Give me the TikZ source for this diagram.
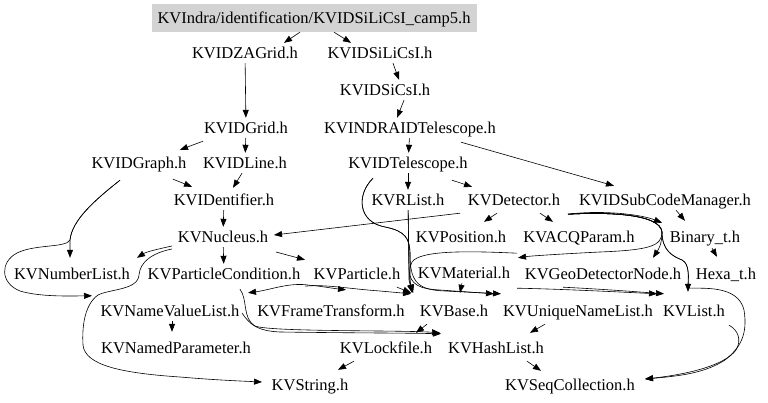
\documentclass[tikz,border=0pt]{standalone}
\usepackage{fontspec}
\setmainfont{Liberation Serif}
\usetikzlibrary{arrows.meta}
\definecolor{rootgray}{RGB}{211,211,211}
\tikzset{
  filebox/.style={inner xsep=2pt, inner ysep=0pt, minimum height=20pt,
    text height=11pt, text depth=0pt, font=\fontsize{16.5}{18}\selectfont},
  rootbox/.style={filebox, fill=rootgray, minimum width=325pt, minimum height=28pt},
  incl/.style={-{Triangle[length=8pt,width=6pt]}, line width=0.6pt}
}

\begin{document}
\begin{tikzpicture}[x=1pt,y=-1pt]
\useasboundingbox (0,0) rectangle (768,403);

\node[rootbox] (root) at (314,18) {KVIndra/identification/KVIDSiLiCsI\_camp5.h};
\node[filebox] (zagrid) at (245,53) {KVIDZAGrid.h};
\node[filebox] (silicsi) at (380,53) {KVIDSiLiCsI.h};
\node[filebox] (sicsi) at (385,90) {KVIDSiCsI.h};
\node[filebox] (idgrid) at (246,128) {KVIDGrid.h};
\node[filebox] (indratel) at (410,128) {KVINDRAIDTelescope.h};
\node[filebox] (idgraph) at (139,163) {KVIDGraph.h};
\node[filebox] (idline) at (245,163) {KVIDLine.h};
\node[filebox] (idtel) at (408,163) {KVIDTelescope.h};
\node[filebox] (ident) at (224,200) {KVIDentifier.h};
\node[filebox] (rlist) at (408,200) {KVRList.h};
\node[filebox] (detector) at (514,200) {KVDetector.h};
\node[filebox] (subcode) at (665,200) {KVIDSubCodeManager.h};
\node[filebox] (nucleus) at (223,237) {KVNucleus.h};
\node[filebox] (position) at (461,237) {KVPosition.h};
\node[filebox] (acq) at (579,237) {KVACQParam.h};
\node[filebox] (binary) at (705,237) {Binary\_t.h};
\node[filebox] (numlist) at (72,274) {KVNumberList.h};
\node[filebox] (pcond) at (224,274) {KVParticleCondition.h};
\node[filebox] (particle) at (357,274) {KVParticle.h};
\node[filebox] (material) at (464,273) {KVMaterial.h};
\node[filebox] (geonode) at (603,274) {KVGeoDetectorNode.h};
\node[filebox] (hexa) at (726,274) {Hexa\_t.h};
\node[filebox] (nvlist) at (170,311) {KVNameValueList.h};
\node[filebox] (frame) at (331,311) {KVFrameTransform.h};
\node[filebox] (base) at (454,311) {KVBase.h};
\node[filebox] (unique) at (578,311) {KVUniqueNameList.h};
\node[filebox] (list) at (694,311) {KVList.h};
\node[filebox] (namedpar) at (176,348) {KVNamedParameter.h};
\node[filebox] (lockfile) at (386,348) {KVLockfile.h};
\node[filebox] (hashlist) at (496,348) {KVHashList.h};
\node[filebox] (string) at (310,385) {KVString.h};
\node[filebox] (seqcoll) at (570,385) {KVSeqCollection.h};

\draw[incl] ([xshift=-14pt]root.south) -- ([xshift=39pt]zagrid.north);
\draw[incl] ([xshift=20pt]root.south) -- ([xshift=-29pt]silicsi.north);
\draw[incl] (zagrid) -- (idgrid);
\draw[incl] ([xshift=13pt]silicsi.south) -- ([xshift=14pt]sicsi.north);
\draw[incl] ([xshift=19pt]sicsi.south) -- ([xshift=-13pt]indratel.north);
\draw[incl] ([xshift=-43pt,yshift=-3pt]idgrid.south) -- ([xshift=41pt,yshift=3pt]idgraph.north);
\draw[incl] (idgrid) -- (idline);
\draw[incl] (indratel) -- (idtel);
\draw[incl] ([xshift=51pt,yshift=-4pt]indratel.south) -- ([xshift=-51pt,yshift=4pt]subcode.north);
\draw[incl] ([xshift=34pt,yshift=-6pt]idgraph.south) -- ([xshift=-32pt,yshift=3pt]ident.north);
\draw[incl] ([xshift=-3pt]idline.south) -- ([xshift=9pt,yshift=2pt]ident.north);
\draw[incl] ([xshift=-19pt,yshift=-7pt]idgraph.south) .. controls (95,200) and (72,220) .. (70,240)
  -- ([xshift=-2pt,yshift=6pt]numlist.north);
\draw[incl] ([xshift=-19pt,yshift=-7pt]idgraph.south) .. controls (95,200) and (72,220) .. (70,240)
  .. controls (66,248) and (35,244) .. (17,253) .. controls (0,262) and (0,283) .. (20,291)
  .. controls (40,297) and (70,296) .. ([xshift=-78pt,yshift=5pt]nvlist.north);
\draw[incl] (ident) -- (nucleus);
\draw[incl] (idtel) -- (rlist);
\draw[incl] ([xshift=44pt,yshift=-7pt]idtel.south) -- ([xshift=-42pt,yshift=3pt]detector.north);
\draw[incl] ([xshift=-35pt,yshift=-5pt]idtel.south) .. controls (356,195) and (358,222) .. (385,227)
  .. controls (405,231) and (410,238) .. (410,255) -- (410,282) -- ([xshift=-41pt,yshift=8pt]base.north);
\draw[incl] ([xshift=-35pt,yshift=-5pt]idtel.south) .. controls (356,195) and (358,222) .. (385,227)
  .. controls (405,231) and (410,238) .. (410,255) .. controls (410,284) and (420,290) .. (445,291)
  -- ([xshift=-77pt,yshift=7pt]unique.north);
\draw[incl] (rlist) -- (409,280) -- ([xshift=-42pt,yshift=8pt]base.north);
\draw[incl] (rlist) -- (409,270) .. controls (410,285) and (420,289) .. (440,290)
  -- ([xshift=-84pt,yshift=7pt]unique.north);
\draw[incl] ([xshift=-62pt,yshift=-6pt]acq.south) .. controls (470,251) and (420,250) .. (412,262)
  .. controls (408,270) and (410,282) .. ([xshift=-41pt,yshift=8pt]base.north);
\draw[incl] ([xshift=40pt,yshift=-3pt]particle.south) -- ([xshift=-43pt,yshift=8pt]base.north);
\draw[incl] ([xshift=81pt,yshift=-2pt]pcond.south) .. controls (325,284) and (350,289) .. (380,291)
  -- ([xshift=-43pt,yshift=7pt]base.north);
\draw[incl] ([xshift=-48pt,yshift=-1pt]particle.south) .. controls (290,282) and (270,290)
  .. ([xshift=78pt,yshift=8pt]nvlist.north);
\draw[incl] ([xshift=-48pt,yshift=-1pt]particle.south) .. controls (320,286) and (330,288)
  .. ([xshift=15pt,yshift=11pt]frame.north);
\draw[incl] (material) -- ([xshift=6pt,yshift=8pt]base.north);
\draw[incl] ([xshift=53pt,yshift=-5pt]material.south) .. controls (560,289) and (620,292)
  .. ([xshift=-37pt,yshift=7pt]list.north);
\draw[incl] ([xshift=-40pt,yshift=-3pt]geonode.south) .. controls (600,289) and (640,292)
  .. ([xshift=-30pt,yshift=7pt]list.north);
\draw[incl] ([xshift=54pt,yshift=-4pt]detector.south) .. controls (600,210) and (640,214)
  .. ([xshift=-43pt,yshift=4pt]binary.north);
\draw[incl] ([xshift=54pt,yshift=-4pt]detector.south) .. controls (610,212) and (660,214) .. (662,232)
  .. controls (662,245) and (658,250) .. ([xshift=50pt,yshift=6pt]geonode.north);
\draw[incl] ([xshift=54pt,yshift=-4pt]detector.south) .. controls (610,212) and (660,214) .. (662,232)
  .. controls (662,246) and (650,250) .. (600,252) .. controls (560,254) and (530,256)
  .. ([xshift=54pt,yshift=5pt]material.north);
\draw[incl] ([xshift=54pt,yshift=-4pt]detector.south) .. controls (610,212) and (660,214) .. (662,232)
  .. controls (662,250) and (672,256) .. (682,260) .. controls (690,264) and (688,278)
  .. ([xshift=-6pt,yshift=9pt]list.north);
\draw[incl] ([xshift=54pt,yshift=-4pt]detector.south) .. controls (610,212) and (660,214) .. (662,232)
  .. controls (662,250) and (672,256) .. (682,260) .. controls (690,264) and (688,278) .. (689,288)
  .. controls (700,289) and (738,284) .. (744,310) .. controls (748,335) and (740,348) .. (725,360)
  .. controls (705,373) and (680,376) .. ([xshift=75pt,yshift=6pt]seqcoll.center);
\draw[incl] ([xshift=35pt,yshift=-4pt]list.south) .. controls (738,330) and (742,340) .. (736,350)
  .. controls (725,365) and (690,374) .. ([xshift=75pt,yshift=6pt]seqcoll.center);
\draw[incl] ([xshift=11pt]subcode.south) -- ([xshift=-20pt,yshift=6pt]binary.north);
\draw[incl] ([xshift=7pt,yshift=-1pt]binary.south) -- ([xshift=-9pt,yshift=7pt]hexa.north);
\draw[incl] ([xshift=-17pt,yshift=-3pt]detector.south) -- ([xshift=23pt,yshift=5pt]position.north);
\draw[incl] ([xshift=26pt,yshift=-3pt]detector.south) -- ([xshift=-26pt,yshift=5pt]acq.north);
\draw[incl] ([xshift=-54pt,yshift=-3pt]detector.south) -- ([xshift=51pt,yshift=2pt]nucleus.center);
\draw[incl] ([xshift=-51pt,yshift=-9pt]nucleus.center) .. controls (158,249) and (146,252)
  .. ([xshift=65pt,yshift=6pt]numlist.north);
\draw[incl] ([xshift=-51pt,yshift=-12pt]nucleus.center) .. controls (152,253) and (140,262) .. (139,275)
  .. controls (138,290) and (110,289) .. (98,295) .. controls (84,305) and (82,328) .. (83,345)
  .. controls (85,365) and (120,373) .. (180,377) .. controls (215,380) and (240,381)
  .. ([xshift=-48pt,yshift=3pt]string.center);
\draw[incl] (nucleus) -- (pcond);
\draw[incl] ([xshift=53pt,yshift=-15pt]nucleus.center) -- ([xshift=-52pt,yshift=4pt]particle.north);
\draw[incl] ([xshift=2pt]nvlist.south) -- ([xshift=-4pt,yshift=6pt]namedpar.north);
\draw[incl] ([xshift=16pt,yshift=-5pt]pcond.south) .. controls (248,300) and (242,318) .. (255,326)
  .. controls (270,332) and (400,330) .. ([xshift=-56pt,yshift=5pt]hashlist.north);
\draw[incl] ([xshift=72pt,yshift=-2pt]nvlist.center) .. controls (250,325) and (258,331) .. (280,332)
  .. controls (350,333) and (410,333) .. ([xshift=-55pt,yshift=4pt]hashlist.north);
\draw[incl] ([xshift=-27pt,yshift=-3pt]base.south) -- ([xshift=30pt,yshift=5pt]lockfile.north);
\draw[incl] ([xshift=-33pt,yshift=-3pt]unique.south) -- ([xshift=34pt,yshift=5pt]hashlist.north);
\draw[incl] ([xshift=31pt,yshift=-3pt]hashlist.south) -- ([xshift=-29pt,yshift=4pt]seqcoll.north);
\draw[incl] ([xshift=-32pt,yshift=-3pt]lockfile.south) -- ([xshift=28pt,yshift=5pt]string.north);
\end{tikzpicture}
\end{document}
